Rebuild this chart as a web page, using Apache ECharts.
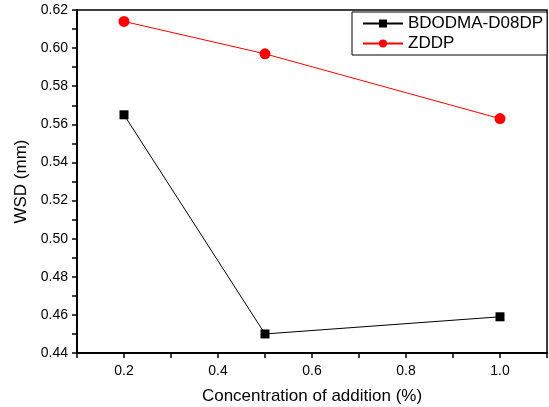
<!DOCTYPE html>
<html><head><meta charset="utf-8">
<script src="https://cdn.jsdelivr.net/npm/echarts@6/dist/echarts.min.js"></script>
<style>html,body{margin:0;padding:0;background:#fff}#c{width:549px;height:407px}</style>
</head><body><div id="c"></div>
<script>
const concentrations = [0.2, 0.5, 1.0];
const bdodmaWSD = [0.565, 0.450, 0.459];
const zddpWSD = [0.614, 0.597, 0.563];
const seriesNames = ['BDODMA-D08DP', 'ZDDP'];
const xTickLabels = ['0.2', '0.4', '0.6', '0.8', '1.0'];

const chart = echarts.init(document.getElementById('c'));
const font = 'Liberation Sans, Arial, sans-serif';
chart.setOption({
  animation: false,
  backgroundColor: '#fff',
  grid: { left: 77, right: 2, top: 10, bottom: 54, containLabel: false, outerBoundsMode: 'none',
    show: true, borderColor: '#000', borderWidth: 1.5 },
  legend: {
    data: seriesNames, orient: 'vertical', left: 352, top: 12, width: 192,
    padding: [3, 4, 3, 10], itemGap: 3, itemWidth: 40, itemHeight: 10,
    borderColor: '#000', borderWidth: 1, backgroundColor: '#fff',
    textStyle: { fontFamily: font, fontSize: 17, color: '#000' }
  },
  xAxis: {
    type: 'value', min: 0.1, max: 1.1, interval: 0.1,
    name: 'Concentration of addition (%)', nameLocation: 'middle', nameGap: 35,
    nameTextStyle: { fontFamily: font, fontSize: 17, color: '#000' },
    axisLine: { lineStyle: { color: '#000', width: 2 } },
    axisTick: { inside: false, length: 5, lineStyle: { color: '#000', width: 1.5 } },
    axisLabel: { fontFamily: font, fontSize: 14, color: '#000', margin: 11,
      formatter: v => { const s = v.toFixed(1); return xTickLabels.includes(s) ? s : ''; } },
    splitLine: { show: false }
  },
  yAxis: {
    type: 'value', min: 0.44, max: 0.62, interval: 0.01,
    name: 'WSD (mm)', nameLocation: 'middle', nameGap: 46,
    nameTextStyle: { fontFamily: font, fontSize: 17, color: '#000' },
    axisLine: { show: true, lineStyle: { color: '#000', width: 2 } },
    axisTick: { show: true, length: 5, lineStyle: { color: '#000', width: 1.5 } },
    axisLabel: { fontFamily: font, fontSize: 14, color: '#000', margin: 9,
      formatter: v => { const k = Math.round(v * 100); return k % 2 === 0 ? v.toFixed(2) : ''; } },
    splitLine: { show: false }
  },
  series: [
    { name: seriesNames[0], type: 'line', data: concentrations.map((x, i) => [x, bdodmaWSD[i]]),
      symbol: 'rect', symbolSize: 9, itemStyle: { color: '#000' }, lineStyle: { color: '#000', width: 1 } },
    { name: seriesNames[1], type: 'line', data: concentrations.map((x, i) => [x, zddpWSD[i]]),
      symbol: 'circle', symbolSize: 11, itemStyle: { color: '#ff0000' }, lineStyle: { color: '#ff0000', width: 1 } }
  ]
});
</script></body></html>
